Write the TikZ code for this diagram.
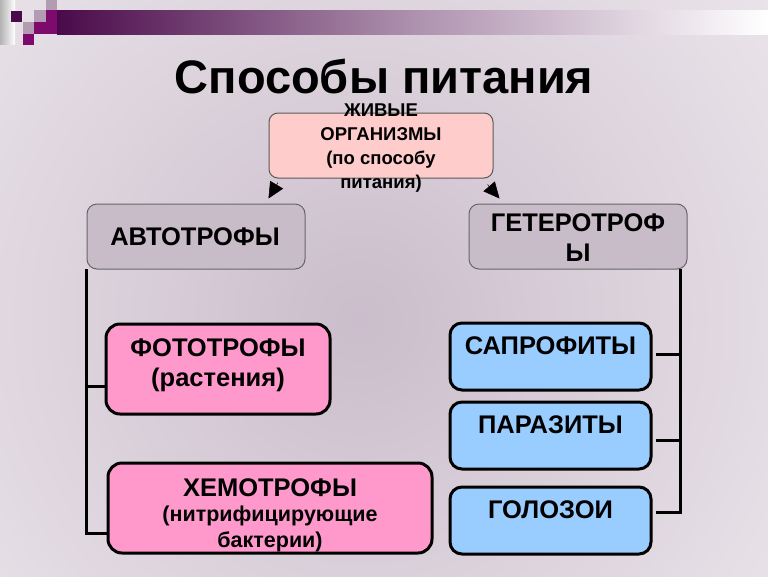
\documentclass[tikz,border=0pt]{standalone}
\usepackage{fontspec}
\setmainfont{Liberation Sans}
\usetikzlibrary{arrows.meta}
\definecolor{bgmid}{HTML}{CBBDCB}
\definecolor{darkpurp}{HTML}{4A0A4A}
\definecolor{purp}{HTML}{7E0A6E}
\definecolor{lightmauve}{HTML}{B29CB2}
\definecolor{toppink}{HTML}{FFCCCC}
\definecolor{graybox}{HTML}{C9BCC9}
\definecolor{pinkbox}{HTML}{FF99CC}
\definecolor{bluebox}{HTML}{99CCFF}
\tikzset{
  topbox/.style={draw=black!65, line width=1pt, fill=toppink, rounded corners=9pt, minimum width=224pt, minimum height=65pt, inner sep=0pt},
  graynode/.style={draw=black!60, line width=1pt, fill=graybox, rounded corners=10pt, minimum width=218pt, minimum height=65pt, inner sep=0pt},
  pinknode/.style={draw=black, line width=3pt, fill=pinkbox, rounded corners=14pt, minimum height=90pt, inner sep=0pt},
  bluenode/.style={draw=black, line width=3pt, fill=bluebox, rounded corners=12pt, minimum width=201pt, minimum height=67pt, inner sep=0pt},
  bigtxt/.style={font=\bfseries\fontsize{25.5}{30}\selectfont, align=center, inner sep=0pt},
  conn/.style={line width=3pt, line cap=rect},
  tipline/.style={-{Triangle[length=16pt,width=15pt]}, line width=0.5pt, black}
}
\begin{document}
\begin{tikzpicture}[x=1pt,y=-1pt]
\useasboundingbox (0,0) rectangle (768,576);
% background
\begin{scope}
\clip (0,0) rectangle (768,576);
\fill[white] (0,0) rectangle (768,576);
\shade[inner color=bgmid, outer color=white] (360,320) circle (880);
% header bar and squares
\shade[left color=darkpurp, right color=white, middle color=darkpurp!45!white] (57,10) rectangle (768,34);
\shade[left color=black!30, right color=white] (0,0) rectangle (15,44);
\fill[darkpurp] (11,11) rectangle (22,22);
\fill[lightmauve] (46,0) rectangle (57,10);
\fill[lightmauve] (34,10) rectangle (46,22);
\fill[purp] (46,10) rectangle (57,34);
\fill[lightmauve] (23,22) rectangle (34,34);
\fill[purp] (34,22) rectangle (46,34);
\fill[purp] (23,34) rectangle (34,45);
\end{scope}
% title
\node[font=\bfseries\fontsize{47}{52}\selectfont, inner sep=0pt, text depth=0pt, anchor=base] (title) at (384,93) {Способы питания};
% top box
\node[topbox] (top) at (381,145.5) {};
\node[font=\bfseries\fontsize{18.5}{24}\selectfont, align=center, inner sep=0pt] (toptxt) at (381,148) {ЖИВЫЕ\\ОРГАНИЗМЫ\\(по способу\\питания)};
% arrow tips
\draw[tipline] ([xshift=9.5pt,yshift=-4pt]top.south west) -- ([xshift=0pt,yshift=-20pt]top.south west);
\draw[tipline] ([xshift=-6pt,yshift=-6pt]top.south east) -- ([xshift=6pt,yshift=-20pt]top.south east);
% second level
\node[graynode] (auto) at (196,236.5) {};
\node[bigtxt] (autotxt) at (195,237) {АВТОТРОФЫ};
\node[graynode] (hetero) at (578,236.5) {};
\node[bigtxt] (heterotxt) at (578,238) {ГЕТЕРОТРОФ\\Ы};
% left branch
\node[pinknode, minimum width=224pt] (photo) at (218,369) {};
\node[bigtxt] (phototxt) at (218,365) {ФОТОТРОФЫ\\(растения)};
\node[pinknode, minimum width=324pt] (chemo) at (270,508) {};
\node[bigtxt, font=\bfseries\fontsize{21.5}{25.5}\selectfont] (chemotxt) at (270,515) {{\fontsize{25.5}{30}\selectfont ХЕМОТРОФЫ}\\(нитрифицирующие\\бактерии)};
% right branch
\node[bluenode] (sapro) at (550.5,356.5) {};
\node[bigtxt] (saprotxt) at (550.5,346) {САПРОФИТЫ};
\node[bluenode] (para) at (550.5,435.5) {};
\node[bigtxt] (paratxt) at (550.5,425) {ПАРАЗИТЫ};
\node[bluenode] (golo) at (550.5,520.5) {};
\node[bigtxt] (golotxt) at (550.5,510) {ГОЛОЗОИ};
% connectors
\coordinate (lv) at ([yshift=-1pt]auto.south west);
\draw[conn] (lv) |- ([yshift=-17pt]photo.west);
\draw[conn] (lv) |- ([yshift=-25pt]chemo.west);
\coordinate (rv) at ([xshift=-7pt,yshift=-1pt]hetero.south east);
\draw[conn] (rv) |- ([xshift=5pt,yshift=8.5pt]golo.east);
\draw[conn] ([xshift=5pt,yshift=2.5pt]sapro.east) -| (rv);
\draw[conn] ([xshift=5pt,yshift=-4.5pt]para.east) -| (rv);
\end{tikzpicture}
\end{document}
